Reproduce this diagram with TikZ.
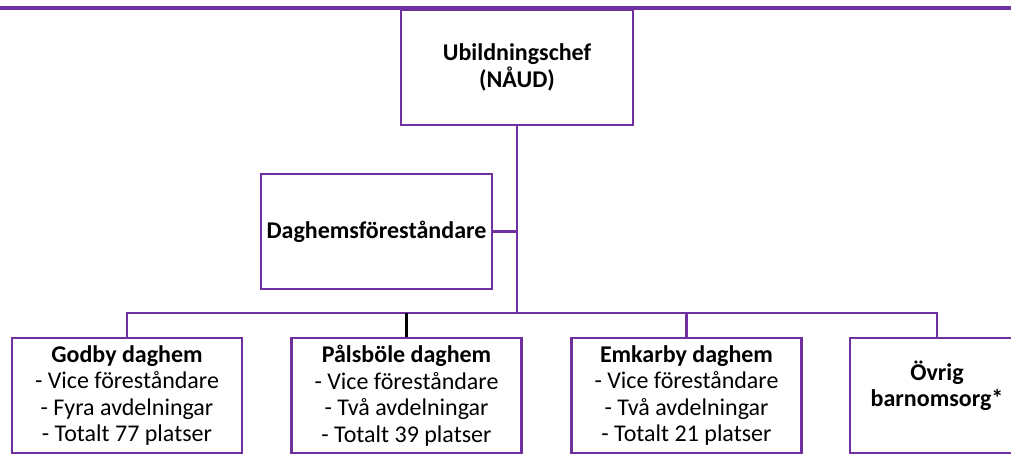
\documentclass[tikz,border=0pt]{standalone}
\usepackage{fontspec}
\setmainfont{Carlito}
\usetikzlibrary{positioning}
\definecolor{orgpurple}{HTML}{7030A0}

\begin{document}
\begin{tikzpicture}[x=1pt, y=-1pt,
        orgbox/.style={draw=orgpurple, line width=2.6pt, fill=white, align=center,
            inner sep=0pt, font=\fontsize{24}{26.5}\selectfont},
        unitbox/.style={orgbox, minimum width=230pt, minimum height=115.5pt},
        orgline/.style={draw=orgpurple, line width=2.6pt}]
        \useasboundingbox (0,0) rectangle (1011,453);
        \clip (0,0) rectangle (1011,453);

        \coordinate (railL) at (0,8);
        \coordinate (railR) at (1011,8);
        \draw[orgpurple, line width=3.4pt] (railL) -- (railR);

        \node[orgbox, minimum width=232pt, minimum height=115pt] (chef) at (517,67.5) {\bfseries Ubildningschef\\\bfseries (NÅUD)};
        \node[orgbox, minimum width=231pt, minimum height=115pt] (dagfor) at (376.5,231.5) {\bfseries Daghemsföreståndare};

        \node[unitbox] (godby) at (127,395.75) {\bfseries Godby daghem\\- Vice föreståndare\\- Fyra avdelningar\\- Totalt 77 platser};
        \node[unitbox] (palsbole) at (406.5,395.75) {\bfseries Pålsböle daghem\\- Vice föreståndare\\- Två avdelningar\\- Totalt 39 platser};
        \node[unitbox] (emkarby) at (686.5,395.75) {\bfseries Emkarby daghem\\- Vice föreståndare\\- Två avdelningar\\- Totalt 21 platser};
        \node[unitbox, minimum width=174pt, text depth=24pt] (ovrig) at (937,395.75) {\bfseries Övrig\\\bfseries barnomsorg*};

        \coordinate (bus) at (517,313);

        \draw[orgline]
        (chef.south) -- (bus)
        (dagfor.east) -- (dagfor.east -| bus)
        (godby.north) |- (bus) -| (ovrig.north)
        (emkarby.north) -- (emkarby.north |- bus)
        ;
        \draw[black, line width=2.2pt] (palsbole.north) -- (palsbole.north |- bus);
    \end{tikzpicture}
\end{document}
